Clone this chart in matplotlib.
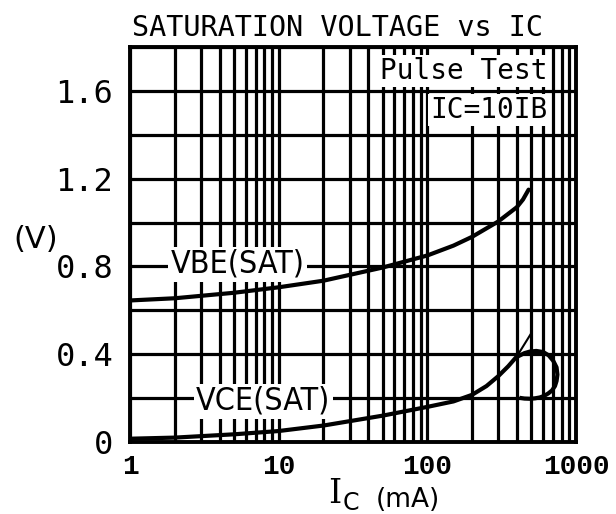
import matplotlib
matplotlib.use("Agg")
import matplotlib.pyplot as plt
from matplotlib.ticker import FixedLocator, NullFormatter

# ---- data ----
ic_vbe = [1, 2, 5, 10, 20, 50, 100, 150, 200, 300, 400, 440, 480]
vbe_sat = [0.645, 0.655, 0.68, 0.705, 0.735, 0.795, 0.85, 0.895, 0.935, 1.005, 1.07, 1.105, 1.15]

ic_vce = [1, 2, 5, 10, 20, 50, 100, 150, 200, 250, 300, 350, 400]
vce_sat = [0.015, 0.02, 0.035, 0.05, 0.075, 0.12, 0.16, 0.185, 0.215, 0.255, 0.30, 0.345, 0.39]

ic_vce_ext = [400, 494]
vce_ext = [0.39, 0.49]

ic_loop = [407, 450, 489, 540, 601, 655, 703, 740, 750, 740, 722, 690, 650, 610, 571, 530, 489, 450, 430]
vce_loop = [0.39, 0.405, 0.412, 0.415, 0.41, 0.395, 0.37, 0.34, 0.307, 0.278, 0.255, 0.235, 0.221, 0.21, 0.203, 0.199, 0.197, 0.198, 0.20]

y_major = [0, 0.4, 0.8, 1.2, 1.6]
y_major_labels = ["0", "0.4", "0.8", "1.2", "1.6"]
y_minor = [0.2, 0.6, 1.0, 1.4, 1.8]
x_major = [1, 10, 100, 1000]
x_major_labels = ["1", "10", "100", "1000"]

title = "SATURATION VOLTAGE vs IC"
note1 = "Pulse Test"
note2 = "IC=10IB"

W, H = 616, 514
fig = plt.figure(figsize=(W / 100, H / 100), dpi=100)
L, R, T, B = 130, 576, 47, 442
ax = fig.add_axes([L / W, 1 - B / H, (R - L) / W, (B - T) / H])

ax.set_xscale("log")
ax.set_xlim(1, 1000)
ax.set_ylim(0, 1.8)

ax.xaxis.set_major_locator(FixedLocator(x_major))
ax.xaxis.set_minor_locator(FixedLocator([m * 10 ** d for d in range(3) for m in range(2, 10)]))
ax.xaxis.set_minor_formatter(NullFormatter())
ax.set_xticks(x_major, x_major_labels)
ax.set_yticks(y_major, y_major_labels)
ax.set_yticks(y_minor, minor=True)

ax.grid(True, which="both", color="black", linewidth=2.3, zorder=1)
ax.set_axisbelow(True)
ax.tick_params(which="both", length=0)
ax.tick_params(axis="y", pad=12)
ax.tick_params(axis="x", pad=9)
for lab in ax.get_yticklabels():
    lab.set_fontfamily("DejaVu Sans Mono")
    lab.set_fontsize(23)
for lab in ax.get_xticklabels():
    lab.set_fontfamily("Liberation Mono")
    lab.set_fontsize(20)
    lab.set_fontweight("bold")
for sp in ax.spines.values():
    sp.set_linewidth(2.8)

ax.plot(ic_vbe, vbe_sat, color="black", linewidth=3.0, zorder=5, solid_capstyle="round",
        solid_joinstyle="round")
ax.plot(ic_vce, vce_sat, color="black", linewidth=3.0, zorder=5, solid_capstyle="round",
        solid_joinstyle="round")
ax.plot(ic_vce_ext, vce_ext, color="black", linewidth=1.5, zorder=5)
ax.plot(ic_loop, vce_loop, color="black", linewidth=3.0, zorder=5, solid_joinstyle="round")

box = dict(facecolor="white", edgecolor="none", pad=1.5)
ax.text(5.3, 0.81, "VBE(SAT)", fontsize=23, family="DejaVu Sans", fontstretch="condensed",
        ha="center", va="center", bbox=box, zorder=2)
ax.text(7.9, 0.185, "VCE(SAT)", fontsize=23, family="DejaVu Sans", fontstretch="condensed",
        ha="center", va="center", bbox=box, zorder=2)
ax.text(0.935, 0.975, note1, transform=ax.transAxes, fontsize=20, family="DejaVu Sans Mono",
        ha="right", va="top", bbox=box, zorder=2)
ax.text(0.935, 0.875, note2, transform=ax.transAxes, fontsize=20, family="DejaVu Sans Mono",
        ha="right", va="top", bbox=box, zorder=2)

fig.text(338 / W, 1 - 28 / H, title, fontsize=20.5, family="DejaVu Sans Mono", ha="center", va="center")
fig.text(36 / W, 1 - 240 / H, "(V)", fontsize=22, family="DejaVu Sans", ha="center", va="center")
fig.text(335 / W, 1 - 494 / H, "I", fontsize=24, family="DejaVu Serif", ha="center", va="center")
fig.text(351 / W, 1 - 503 / H, "C", fontsize=17, family="DejaVu Sans", ha="center", va="center")
fig.text(408 / W, 1 - 500 / H, "(mA)", fontsize=19, family="DejaVu Sans", ha="center", va="center")

fig.savefig("out.png", dpi=100)
